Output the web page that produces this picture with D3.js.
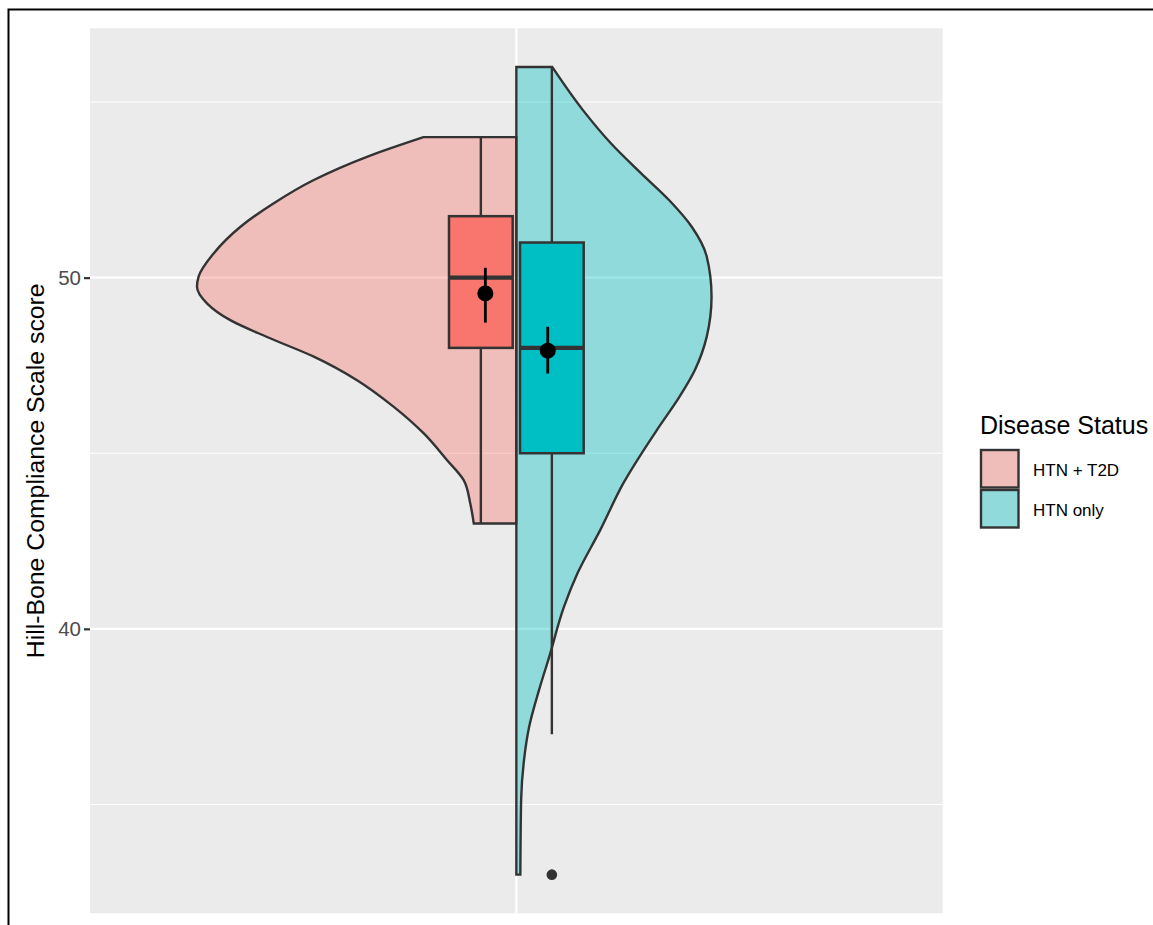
<!DOCTYPE html>
<html>
<head>
<meta charset="utf-8">
<script src="https://cdn.jsdelivr.net/npm/d3@7"></script>
<style>
  html, body { margin: 0; padding: 0; background: #ffffff; }
  svg { display: block; font-family: "Liberation Sans", Arial, sans-serif; }
</style>
</head>
<body>
<svg id="chart" width="1153" height="925"></svg>
<script>
// Groups (fill legend)
const groups = ["HTN + T2D", "HTN only"];
const groupColors = ["#F8766D", "#00BFC4"];

// Half-violin density profiles (score, relative density)
const redScore   = [54.0, 53.44, 52.78, 52.12, 51.45, 50.69, 50.03, 49.74, 49.27, 48.79, 48.31, 47.75, 47.08, 46.32, 45.57, 44.81, 44.24, 43.57, 43.0];
const redDensity = [0.290, 0.467, 0.633, 0.758, 0.862, 0.946, 0.993, 0.998, 0.967, 0.894, 0.779, 0.633, 0.498, 0.383, 0.290, 0.217, 0.165, 0.144, 0.133];
const tealScore   = [56.0, 54.77, 53.82, 52.97, 52.21, 51.45, 50.60, 49.46, 48.32, 47.37, 46.61, 45.66, 44.14, 42.81, 41.58, 40.63, 39.21, 38.26, 37.21, 36.27, 35.14, 33.0];
const tealDensity = [0.112, 0.208, 0.296, 0.390, 0.477, 0.548, 0.595, 0.610, 0.595, 0.558, 0.510, 0.439, 0.334, 0.262, 0.191, 0.149, 0.103, 0.071, 0.040, 0.024, 0.015, 0.0125];

// Box plot summaries per group
const boxQ1       = [48, 45];
const boxMedian   = [50, 48];
const boxQ3       = [51.75, 51];
const whiskerLow  = [43, 37];
const whiskerHigh = [54, 56];
const outliers    = [[], [33]];

// Mean with interval per group
const meanScore = [49.55, 47.92];
const meanLow   = [48.72, 47.27];
const meanHigh  = [50.28, 48.60];

// Axis ticks
const majorTicks = [40, 50];
const minorTicks = [35, 45, 55];
const tickLabels = ["40", "50"];
const yTitle = "Hill-Bone Compliance Scale score";
const legendTitle = "Disease Status";

const svg = d3.select("#chart");

const panel = { left: 90, right: 942.7, top: 28.3, bottom: 913.3 };

const y = d3.scaleLinear().domain([31.9, 57.1]).range([panel.bottom, panel.top]);
const x = d3.scalePoint().domain(["all"]).range([panel.left, panel.right]).padding(0.5);
const cx = x("all");
const w = d3.scaleLinear().domain([0, 1]).range([0, 320]);

const ink = "#333333";

// outer frame
svg.append("path")
  .attr("d", "M8.5,925 V9.5 H1153")
  .attr("fill", "none").attr("stroke", "#000").attr("stroke-width", 2);

// panel background
svg.append("rect")
  .attr("x", panel.left).attr("y", panel.top)
  .attr("width", panel.right - panel.left).attr("height", panel.bottom - panel.top)
  .attr("fill", "#ebebeb");

// grid lines
const grid = svg.append("g");
grid.selectAll("line.minor").data(minorTicks).join("line")
  .attr("x1", panel.left).attr("x2", panel.right)
  .attr("y1", d => y(d)).attr("y2", d => y(d))
  .attr("stroke", "#ffffff").attr("stroke-width", 1.1);
grid.selectAll("line.major").data(majorTicks).join("line")
  .attr("x1", panel.left).attr("x2", panel.right)
  .attr("y1", d => y(d)).attr("y2", d => y(d))
  .attr("stroke", "#ffffff").attr("stroke-width", 2.2);
grid.append("line")
  .attr("x1", cx).attr("x2", cx).attr("y1", panel.top).attr("y2", panel.bottom)
  .attr("stroke", "#ffffff").attr("stroke-width", 2.2);

// half violins
const leftArea = d3.area()
  .y(d => y(d[0])).x0(cx).x1(d => cx - w(d[1]))
  .curve(d3.curveMonotoneY);
const rightArea = d3.area()
  .y(d => y(d[0])).x0(cx).x1(d => cx + w(d[1]))
  .curve(d3.curveMonotoneY);

const violins = [
  { pts: d3.zip(redScore, redDensity), gen: leftArea, color: groupColors[0] },
  { pts: d3.zip(tealScore, tealDensity), gen: rightArea, color: groupColors[1] }
];
svg.append("g").selectAll("path").data(violins).join("path")
  .attr("d", d => d.gen(d.pts))
  .attr("fill", d => d.color).attr("fill-opacity", 0.38)
  .attr("stroke", ink).attr("stroke-width", 2.4)
  .attr("stroke-linejoin", "miter");

// box plots
const boxOffset = [-35.5, 35.5];
const boxWidth = 63.7;
const boxes = svg.append("g");
groups.forEach((g, i) => {
  const bx = cx + boxOffset[i];
  boxes.append("line")
    .attr("x1", bx).attr("x2", bx).attr("y1", y(whiskerHigh[i])).attr("y2", y(boxQ3[i]))
    .attr("stroke", ink).attr("stroke-width", 2.4);
  boxes.append("line")
    .attr("x1", bx).attr("x2", bx).attr("y1", y(boxQ1[i])).attr("y2", y(whiskerLow[i]))
    .attr("stroke", ink).attr("stroke-width", 2.4);
  boxes.append("rect")
    .attr("x", bx - boxWidth / 2).attr("width", boxWidth)
    .attr("y", y(boxQ3[i])).attr("height", y(boxQ1[i]) - y(boxQ3[i]))
    .attr("fill", groupColors[i]).attr("stroke", ink).attr("stroke-width", 2.5);
  boxes.append("line")
    .attr("x1", bx - boxWidth / 2).attr("x2", bx + boxWidth / 2)
    .attr("y1", y(boxMedian[i])).attr("y2", y(boxMedian[i]))
    .attr("stroke", ink).attr("stroke-width", 4.4);
  boxes.selectAll(null).data(outliers[i]).join("circle")
    .attr("cx", bx).attr("cy", d => y(d)).attr("r", 5.3)
    .attr("fill", ink);
});

// means with intervals
const meanOffset = [-31, 31.4];
const means = svg.append("g");
groups.forEach((g, i) => {
  const mx = cx + meanOffset[i];
  means.append("line")
    .attr("x1", mx).attr("x2", mx).attr("y1", y(meanHigh[i])).attr("y2", y(meanLow[i]))
    .attr("stroke", "#000").attr("stroke-width", 2.8);
  means.append("circle")
    .attr("cx", mx).attr("cy", y(meanScore[i])).attr("r", 8)
    .attr("fill", "#000");
});

// y axis
const yAxis = d3.axisLeft(y).tickValues(majorTicks).tickSize(6).tickPadding(3)
  .tickFormat((d, i) => tickLabels[i]);
const ya = svg.append("g").attr("transform", `translate(${panel.left},0)`).call(yAxis);
ya.select(".domain").remove();
ya.selectAll(".tick line").attr("stroke", ink).attr("stroke-width", 2.2);
ya.selectAll(".tick text")
  .attr("fill", "#4d4d4d").style("font-size", "20.5px")
  .style("font-family", "'Liberation Sans', Arial, sans-serif");

svg.append("text")
  .attr("transform", `translate(43.5,${(panel.top + panel.bottom) / 2}) rotate(-90)`)
  .attr("text-anchor", "middle")
  .style("font-size", "24.8px").attr("fill", "#000")
  .text(yTitle);

// legend
const legend = svg.append("g").attr("transform", "translate(980,0)");
legend.append("text")
  .attr("x", 0).attr("y", 433.5)
  .style("font-size", "25px").attr("fill", "#000")
  .text(legendTitle);
groups.forEach((g, i) => {
  const ky = 450 + i * 40;
  legend.append("rect")
    .attr("x", 1).attr("y", ky).attr("width", 37.5).attr("height", 37.5)
    .attr("fill", "#ebebeb");
  legend.append("rect")
    .attr("x", 1).attr("y", ky).attr("width", 37.5).attr("height", 37.5)
    .attr("fill", groupColors[i]).attr("fill-opacity", 0.38)
    .attr("stroke", ink).attr("stroke-width", 2.4);
  legend.append("text")
    .attr("x", 53).attr("y", ky + 26)
    .style("font-size", "17px").attr("fill", "#000")
    .text(g);
});
</script>
</body>
</html>
